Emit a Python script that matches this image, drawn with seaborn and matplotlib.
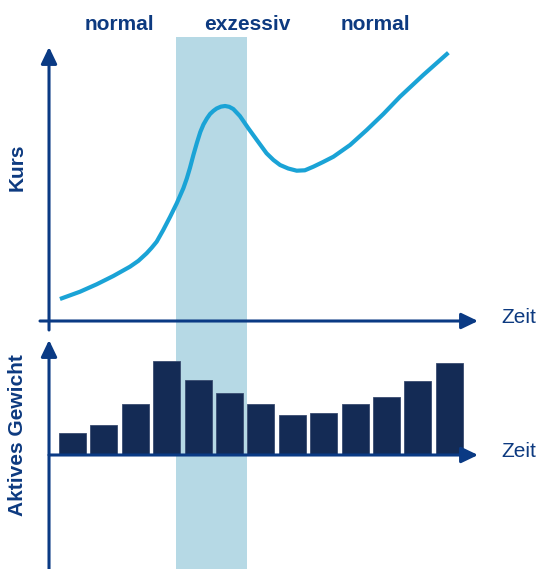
import matplotlib
matplotlib.use("Agg")
import matplotlib.pyplot as plt
import seaborn as sns
import pandas as pd

# --- data -------------------------------------------------------------
# price path (time in period units, price in arbitrary units)
kurs_zeit = [-0.40, 0.24, 0.77, 1.30, 1.83, 2.10, 2.36, 2.52, 2.68, 2.89,
             3.11, 3.32, 3.53, 3.64, 3.74, 3.85, 3.96, 4.07, 4.17, 4.28,
             4.38, 4.49, 4.59, 4.73, 4.86, 4.99, 5.12, 5.33, 5.60, 5.87,
             6.18, 6.40, 6.61, 6.87, 7.14, 7.40, 7.67, 7.98, 8.31, 8.84,
             9.37, 9.90, 10.43, 11.17, 11.97]
kurs_wert = [2.20, 2.93, 3.67, 4.50, 5.43, 6.02, 6.77, 7.32, 7.93, 9.10,
             10.43, 11.77, 13.27, 14.25, 15.30, 16.60, 17.80, 18.90, 19.65, 20.25,
             20.70, 21.02, 21.25, 21.44, 21.50, 21.42, 21.20, 20.50, 19.27, 18.10,
             16.77, 16.10, 15.60, 15.25, 15.03, 15.07, 15.43, 15.90, 16.43, 17.60,
             19.10, 20.70, 22.43, 24.60, 26.83]

# active weight per period
perioden = list(range(1, 14))
aktives_gewicht = [2.2, 3.0, 5.1, 9.4, 7.5, 6.2, 5.1, 4.0, 4.2, 5.1, 5.8, 7.4, 9.2]

# phases shown above the chart
phasen = ["normal", "exzessiv", "normal"]
phasen_x = [1.51, 5.57, 9.65]
exzess_von, exzess_bis = 3.296, 5.557

# --- style ------------------------------------------------------------
sns.set_style("white")
plt.rcParams["font.family"] = ["Liberation Sans", "DejaVu Sans"]

NAVY_TEXT = "#0d3a80"
AXIS_BLUE = "#0a3a84"
BAR_NAVY = "#142b55"
CURVE_BLUE = "#1aa3d6"
BAND_BLUE = "#b6d9e5"

W, H = 542, 569
fig = plt.figure(figsize=(W / 100, H / 100), dpi=100)
split = 335  # pixel row where the two panels meet
ax1 = fig.add_axes([0, (H - split) / H, 1, split / H])
ax2 = fig.add_axes([0, 0, 1, (H - split) / H])

XLIM = (-2.309, 14.952)
Y1 = (-1.4, 32.1)
Y2 = (-11.4, 12.0)
for ax in (ax1, ax2):
    ax.set_axis_off()

# highlighted phase band
band_top = 28.43
ax1.axvspan(exzess_von, exzess_bis, ymin=0, ymax=(band_top - Y1[0]) / (Y1[1] - Y1[0]),
            color=BAND_BLUE, lw=0, zorder=0)
ax2.axvspan(exzess_von, exzess_bis, color=BAND_BLUE, lw=0, zorder=0)

# price curve
df_kurs = pd.DataFrame({"Zeit": kurs_zeit, "Kurs": kurs_wert})
sns.lineplot(data=df_kurs, x="Zeit", y="Kurs", ax=ax1, color=CURVE_BLUE,
             lw=3, sort=False, zorder=3)
ax1.lines[-1].set_solid_capstyle("butt")
ax1.lines[-1].set_solid_joinstyle("round")

# active weight bars
df_gew = pd.DataFrame({"Periode": perioden, "Gewicht": aktives_gewicht})
sns.barplot(data=df_gew, x="Periode", y="Gewicht", ax=ax2, color=BAR_NAVY,
            width=0.86, saturation=1, edgecolor="#3a4c70", linewidth=0.6, zorder=2)
ax2.set_axis_off()

ax1.set_xlim(XLIM); ax1.set_ylim(Y1)
ax2.set_xlim(XLIM); ax2.set_ylim(Y2)


def arrow(ax, start, tip):
    ax.annotate("", xy=tip, xytext=start, annotation_clip=False,
                arrowprops=dict(arrowstyle="-|>,head_length=1.0,head_width=0.48",
                                color=AXIS_BLUE, lw=2.2, shrinkA=0, shrinkB=0,
                                mutation_scale=10), zorder=5)


y_axis_x = -0.748
x_tip = 12.914
# top panel axes
arrow(ax1, (y_axis_x, -0.9), (y_axis_x, 27.4))
arrow(ax1, (-1.035, 0), (x_tip, 0))
# bottom panel axes
arrow(ax2, (y_axis_x, -12.0), (y_axis_x, 11.5))
arrow(ax2, (y_axis_x, 0), (x_tip, 0))

# labels
for name, x in zip(phasen, phasen_x):
    ax1.text(x, 29.15, name, ha="center", va="baseline", fontsize=15,
             fontweight="bold", color=NAVY_TEXT)
ax1.text(-1.75, 15.35, "Kurs", rotation=90, ha="center", va="center",
         fontsize=15, fontweight="bold", color=NAVY_TEXT)
ax2.text(-1.75, 2.0, "Aktives Gewicht", rotation=90, ha="center", va="center",
         fontsize=15, fontweight="bold", color=NAVY_TEXT)
ax1.text(13.67, -0.2, "Zeit", ha="left", va="baseline", fontsize=15, color=NAVY_TEXT)
ax2.text(13.67, -0.17, "Zeit", ha="left", va="baseline", fontsize=15, color=NAVY_TEXT)

fig.savefig("out.png", dpi=100)
